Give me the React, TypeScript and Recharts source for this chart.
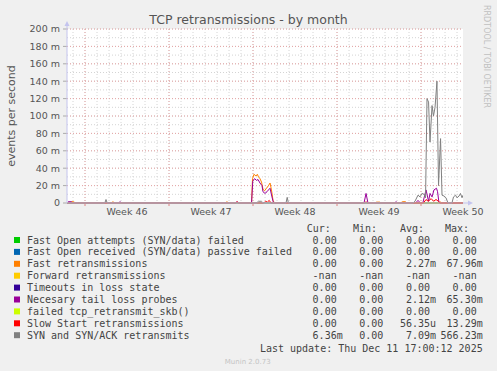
import React from "react";
import { LineChart, Line, XAxis, YAxis, CartesianGrid, ReferenceLine } from "recharts";

// x = days since Mon 10 Nov 2025 (start of week 46), y = milli-events per second
const weekLabels = ["Week 46", "Week 47", "Week 48", "Week 49", "Week 50"];
const weekMid = [3.5, 10.5, 17.5, 24.5, 31.5];
const weekStart = [0, 7, 14, 21, 28];
const yTicks = [0, 20, 40, 60, 80, 100, 120, 140, 160, 180, 200];

const seriesNames = [
  "Fast Open attempts (SYN/data) failed",
  "Fast Open received (SYN/data) passive failed",
  "Fast retransmissions",
  "Forward retransmissions",
  "Timeouts in loss state",
  "Necesary tail loss probes",
  "failed tcp_retransmit_skb()",
  "Slow Start retransmissions",
  "SYN and SYN/ACK retransmits",
];
const seriesColors = ["#00cc00", "#0066b3", "#ff8000", "#ffcc00", "#330099", "#990099", "#ccff00", "#ff0000", "#808080"];
const legendCur = ["0.00", "0.00", "0.00", "-nan", "0.00", "0.00", "0.00", "0.00", "6.36m"];
const legendMin = ["0.00", "0.00", "0.00", "-nan", "0.00", "0.00", "0.00", "0.00", "0.00"];
const legendAvg = ["0.00", "0.00", "2.27m", "-nan", "0.00", "2.12m", "0.00", "56.35u", "7.09m"];
const legendMax = ["0.00", "0.00", "67.96m", "-nan", "0.00", "65.30m", "0.00", "13.29m", "566.23m"];

// series that stay at zero the whole month
const zeroDays = [-1.5, 31.5];
const zeroValues = [0, 0];

const fastRetransDays = [-1.5, -1.25, -1.1, -0.95, -0.8, 2.2, 2.33, 2.46, 11.7, 11.83, 11.96,
  13.88, 13.96, 14.08, 14.25, 14.36, 14.46, 14.58, 14.71, 14.83, 14.96, 15.13, 15.29, 15.42, 15.54, 15.67, 15.79,
  24.15, 24.3, 24.55, 24.7, 26.3, 26.45, 26.7, 26.85, 29.5, 29.6, 29.7, 31.5];
const fastRetransValues = [0, 0, 1.5, 1.5, 0, 0, 1.5, 0, 0, 1.5, 0,
  0, 28, 33, 31, 33, 30, 28, 24, 16, 14, 17, 20, 23, 15, 3, 0,
  0, 1, 1, 0, 0, 1.5, 1.5, 0, 0, 1.5, 0, 0];

const tailLossDays = [-1.5, -1.4, -1.15, -1.0, 2.8, 2.92, 3.04, 12.55, 12.67, 12.8,
  13.88, 13.98, 14.13, 14.29, 14.42, 14.58, 14.75, 14.83, 15.0, 15.17, 15.29, 15.42, 15.58, 15.71,
  23.25, 23.42, 23.58, 25.8, 25.92, 26.05,
  27.55, 27.75, 27.95, 28.15, 28.42, 28.63, 28.75, 28.92, 29.08, 29.29, 29.38, 29.5, 31.5];
const tailLossValues = [0, 1.5, 1.5, 0, 0, 1.5, 0, 0, 1.5, 0,
  0, 25, 28, 26, 27, 23, 20, 13, 11, 13, 15, 17, 7, 0,
  0, 11, 0, 0, 1.5, 0,
  0, 3, 0, 0, 15, 2, 11, 7, 15, 17, 13, 0, 0];

const slowStartDays = [-1.5, 12.55, 12.67, 12.8, 14.9, 15.05, 15.2, 15.35, 15.5, 23.3, 23.42, 23.54,
  28.2, 28.42, 28.6, 28.85, 29.05, 29.25, 29.45, 29.6, 31.5];
const slowStartValues = [0, 0, 1.5, 0, 0, 2, 1, 3, 0, 0, 1.5, 0,
  0, 4, 2, 5, 2, 4, 2, 0, 0];

const synDays = [-1.5, 1.65, 1.75, 1.85, 14.3, 14.45, 14.7, 14.85, 16.75, 16.85, 16.95,
  27.33, 27.5, 27.75, 27.92, 28.08, 28.25, 28.38,
  28.5, 28.63, 28.75, 28.92, 29.04, 29.17, 29.33, 29.46, 29.63, 29.75,
  29.92, 30.08, 30.25, 30.58, 30.71, 30.88, 31.0, 31.17, 31.29, 31.42, 31.5];
const synValues = [0, 0, 4, 0, 0, 2, 2, 0, 0, 6.5, 0,
  0, 2, 9, 7, 11, 10, 6,
  120, 116, 70, 112, 100, 110, 140, 20, 74, 9,
  8, 6, 0, 0, 7, 9, 6, 8, 11, 6, 9];

const toPoints = (days: number[], values: number[]) => days.map((day, i) => ({ day, v: values[i] }));

// drawing order as munin: later ones on top
const drawn = [
  { idx: 0, data: toPoints(zeroDays, zeroValues) },
  { idx: 1, data: toPoints(zeroDays, zeroValues) },
  { idx: 2, data: toPoints(fastRetransDays, fastRetransValues) },
  { idx: 4, data: toPoints(zeroDays, zeroValues) },
  { idx: 5, data: toPoints(tailLossDays, tailLossValues) },
  { idx: 6, data: toPoints(zeroDays, zeroValues) },
  { idx: 7, data: toPoints(slowStartDays, slowStartValues) },
  { idx: 8, data: toPoints(synDays, synValues) },
];

const minorY = Array.from({ length: 21 }, (_, i) => i * 10);
const minorX = Array.from({ length: 33 }, (_, i) => i - 1);

const SANS = "DejaVu Sans, sans-serif";
const MONO = "DejaVu Sans Mono, monospace";
const TEXT = "#555";
const AXIS = "#c4c4ee";

const ValueCell = ({ x, y, value }: { x: number; y: number; value: string }) => {
  const unit = /[mu]$/.test(value) ? value.slice(-1) : "";
  const num = unit ? value.slice(0, -1) : value;
  return (
    <>
      <text x={x} y={y} textAnchor="end">{num}</text>
      {unit && <text x={x} y={y}>{unit}</text>}
    </>
  );
};

export default function App() {
  const colRight = [336.7, 383.3, 430, 476.7];
  return (
    <div style={{ position: "fixed", left: 0, top: 0, width: 497, height: 371, background: "#f0f0f0", overflow: "hidden" }}>
      <LineChart width={497} height={371} margin={{ top: 29, right: 34, bottom: 148, left: 7 }}>
        <CartesianGrid fill="#ffffff" stroke="#d4d4d4" strokeDasharray="1 2"
          horizontalValues={minorY} verticalValues={minorX} />
        <CartesianGrid stroke="#e6a6a6" strokeDasharray="1 2" fillOpacity={0}
          horizontalValues={yTicks} verticalValues={weekStart} />
        <XAxis type="number" dataKey="day" domain={[-1.5, 31.5]} ticks={weekMid} allowDataOverflow
          tickFormatter={(v) => weekLabels[weekMid.indexOf(v)]} interval={0}
          axisLine={false} tickLine={false} tickSize={0} tickMargin={5} height={20}
          tick={{ fontFamily: SANS, fontSize: 9.5, fill: TEXT }} />
        <YAxis type="number" domain={[0, 200]} ticks={yTicks} interval={0} width={60}
          tickFormatter={(v) => (v === 0 ? "0" : `${v} m`)}
          axisLine={false} tickLine={{ stroke: "#aaa" }} tickSize={4} tickMargin={3}
          tick={{ fontFamily: SANS, fontSize: 9.5, fill: TEXT }} />
        {weekStart.map((d) => (
          <ReferenceLine key={d} ifOverflow="visible" stroke="#e08080"
            segment={[{ x: d, y: 0 }, { x: d, y: -3.5 }]} />
        ))}
        {drawn.map((s) => (
          <Line key={s.idx} data={s.data} dataKey="v" name={seriesNames[s.idx]} type="linear"
            stroke={seriesColors[s.idx]} strokeWidth={1} dot={false} activeDot={false}
            isAnimationActive={false} />
        ))}
      </LineChart>
      <svg width={497} height={371} style={{ position: "absolute", left: 0, top: 0, pointerEvents: "none" }}>
        <text x={248.5} y={24} textAnchor="middle" fontFamily={SANS} fontSize={12.5} fill={TEXT}>
          TCP retransmissions - by month
        </text>
        <text transform="translate(15,116) rotate(-90)" textAnchor="middle" fontFamily={SANS} fontSize={11} fill={TEXT}>
          events per second
        </text>
        <text transform="translate(484,5) rotate(90)" fontFamily={SANS} fontSize={8} fill="#c0c0c0">
          RRDTOOL / TOBI OETIKER
        </text>
        {/* axes with arrows */}
        <line x1={67} y1={203} x2={67} y2={24} stroke={AXIS} />
        <polygon points="64.5,26 69.5,26 67,21" fill={AXIS} />
        <line x1={67} y1={203} x2={469} y2={203} stroke={AXIS} />
        <polygon points="468,200.5 468,205.5 473,203" fill={AXIS} />
        {/* legend */}
        <g fontFamily={MONO} fontSize={10} fill="#444">
          <text x={306.7} y={231.5}>Cur:</text>
          <text x={353} y={231.5}>Min:</text>
          <text x={400} y={231.5}>Avg:</text>
          <text x={445} y={231.5}>Max:</text>
          {seriesNames.map((name, i) => {
            const y = 243.5 + i * 11.9;
            return (
              <g key={name}>
                <rect x={14} y={y - 6.5} width={6} height={6} fill={seriesColors[i]} />
                <text x={27} y={y}>{name}</text>
                <ValueCell x={colRight[0]} y={y} value={legendCur[i]} />
                <ValueCell x={colRight[1]} y={y} value={legendMin[i]} />
                <ValueCell x={colRight[2]} y={y} value={legendAvg[i]} />
                <ValueCell x={colRight[3]} y={y} value={legendMax[i]} />
              </g>
            );
          })}
          <text x={482.7} y={352} textAnchor="end">Last update: Thu Dec 11 17:00:12 2025</text>
        </g>
        <text x={247.7} y={363.5} textAnchor="middle" fontFamily={SANS} fontSize={7} fill="#c4c4c4">
          Munin 2.0.73
        </text>
      </svg>
    </div>
  );
}
